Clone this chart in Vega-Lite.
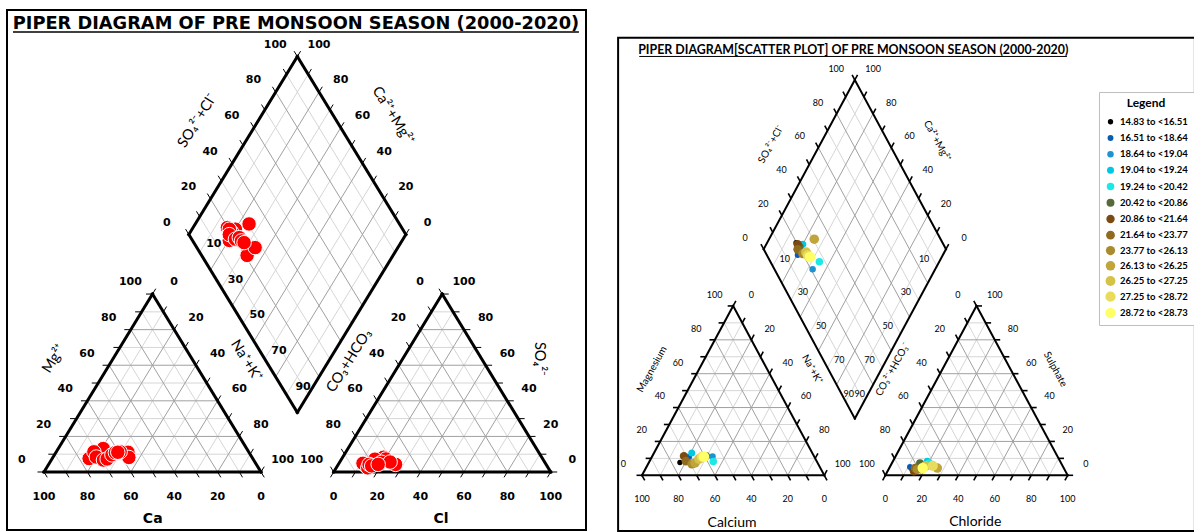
{
  "$schema": "https://vega.github.io/schema/vega-lite/v6.json",
  "background": "white",
  "padding": {"left": 6, "top": 9, "right": 0, "bottom": 2},
  "spacing": 30,
  "resolve": {"scale": {"x": "independent", "y": "independent"}},
  "config": {
    "view": {"stroke": null},
    "legend": {
      "titleFont": "Lato", "titleFontSize": 12, "titleFontWeight": "bold", "titleColor": "#000",
      "titleAnchor": "middle", "titlePadding": 7,
      "labelFont": "Lato", "labelFontSize": 9.5, "labelFontWeight": "bold", "labelColor": "#000", "labelOffset": 4,
      "padding": 6, "strokeColor": "#bfbfbf", "fillColor": "#ffffff", "rowPadding": 5.2,
      "symbolType": "circle", "symbolStrokeWidth": 0
    }
  },
  "datasets": {
    "grid": [
      {"v":10,"x":5,"y":8.2,"x2":95,"y2":8.2},{"v":20,"x":10,"y":16.4,"x2":90,"y2":16.4},{"v":30,"x":15,"y":24.6,"x2":85,"y2":24.6},{"v":40,"x":20,"y":32.8,"x2":80,"y2":32.8},{"v":50,"x":25,"y":41,"x2":75,"y2":41},{"v":60,"x":30,"y":49.2,"x2":70,"y2":49.2},{"v":70,"x":35,"y":57.4,"x2":65,"y2":57.4},{"v":80,"x":40,"y":65.6,"x2":60,"y2":65.6},{"v":90,"x":45,"y":73.8,"x2":55,"y2":73.8},
      {"v":10,"x":10,"y":0,"x2":55,"y2":73.8},{"v":20,"x":20,"y":0,"x2":60,"y2":65.6},{"v":30,"x":30,"y":0,"x2":65,"y2":57.4},{"v":40,"x":40,"y":0,"x2":70,"y2":49.2},{"v":50,"x":50,"y":0,"x2":75,"y2":41},{"v":60,"x":60,"y":0,"x2":80,"y2":32.8},{"v":70,"x":70,"y":0,"x2":85,"y2":24.6},{"v":80,"x":80,"y":0,"x2":90,"y2":16.4},{"v":90,"x":90,"y":0,"x2":95,"y2":8.2},
      {"v":10,"x":10,"y":0,"x2":5,"y2":8.2},{"v":20,"x":20,"y":0,"x2":10,"y2":16.4},{"v":30,"x":30,"y":0,"x2":15,"y2":24.6},{"v":40,"x":40,"y":0,"x2":20,"y2":32.8},{"v":50,"x":50,"y":0,"x2":25,"y2":41},{"v":60,"x":60,"y":0,"x2":30,"y2":49.2},{"v":70,"x":70,"y":0,"x2":35,"y2":57.4},{"v":80,"x":80,"y":0,"x2":40,"y2":65.6},{"v":90,"x":90,"y":0,"x2":45,"y2":73.8},
      {"v":10,"x":138.5,"y":8.2,"x2":228.5,"y2":8.2},{"v":20,"x":143.5,"y":16.4,"x2":223.5,"y2":16.4},{"v":30,"x":148.5,"y":24.6,"x2":218.5,"y2":24.6},{"v":40,"x":153.5,"y":32.8,"x2":213.5,"y2":32.8},{"v":50,"x":158.5,"y":41,"x2":208.5,"y2":41},{"v":60,"x":163.5,"y":49.2,"x2":203.5,"y2":49.2},{"v":70,"x":168.5,"y":57.4,"x2":198.5,"y2":57.4},{"v":80,"x":173.5,"y":65.6,"x2":193.5,"y2":65.6},{"v":90,"x":178.5,"y":73.8,"x2":188.5,"y2":73.8},
      {"v":10,"x":143.5,"y":0,"x2":188.5,"y2":73.8},{"v":20,"x":153.5,"y":0,"x2":193.5,"y2":65.6},{"v":30,"x":163.5,"y":0,"x2":198.5,"y2":57.4},{"v":40,"x":173.5,"y":0,"x2":203.5,"y2":49.2},{"v":50,"x":183.5,"y":0,"x2":208.5,"y2":41},{"v":60,"x":193.5,"y":0,"x2":213.5,"y2":32.8},{"v":70,"x":203.5,"y":0,"x2":218.5,"y2":24.6},{"v":80,"x":213.5,"y":0,"x2":223.5,"y2":16.4},{"v":90,"x":223.5,"y":0,"x2":228.5,"y2":8.2},
      {"v":10,"x":143.5,"y":0,"x2":138.5,"y2":8.2},{"v":20,"x":153.5,"y":0,"x2":143.5,"y2":16.4},{"v":30,"x":163.5,"y":0,"x2":148.5,"y2":24.6},{"v":40,"x":173.5,"y":0,"x2":153.5,"y2":32.8},{"v":50,"x":183.5,"y":0,"x2":158.5,"y2":41},{"v":60,"x":193.5,"y":0,"x2":163.5,"y2":49.2},{"v":70,"x":203.5,"y":0,"x2":168.5,"y2":57.4},{"v":80,"x":213.5,"y":0,"x2":173.5,"y2":65.6},{"v":90,"x":223.5,"y":0,"x2":178.5,"y2":73.8},
      {"v":10,"x":121.75,"y":35.67,"x2":71.75,"y2":117.67},{"v":20,"x":126.75,"y":43.87,"x2":76.75,"y2":125.87},{"v":30,"x":131.75,"y":52.07,"x2":81.75,"y2":134.07},{"v":40,"x":136.75,"y":60.27,"x2":86.75,"y2":142.27},{"v":50,"x":141.75,"y":68.47,"x2":91.75,"y2":150.47},{"v":60,"x":146.75,"y":76.67,"x2":96.75,"y2":158.67},{"v":70,"x":151.75,"y":84.87,"x2":101.75,"y2":166.87},{"v":80,"x":156.75,"y":93.07,"x2":106.75,"y2":175.07},{"v":90,"x":161.75,"y":101.27,"x2":111.75,"y2":183.27},
      {"v":10,"x":111.75,"y":35.67,"x2":161.75,"y2":117.67},{"v":20,"x":106.75,"y":43.87,"x2":156.75,"y2":125.87},{"v":30,"x":101.75,"y":52.07,"x2":151.75,"y2":134.07},{"v":40,"x":96.75,"y":60.27,"x2":146.75,"y2":142.27},{"v":50,"x":91.75,"y":68.47,"x2":141.75,"y2":150.47},{"v":60,"x":86.75,"y":76.67,"x2":136.75,"y2":158.67},{"v":70,"x":81.75,"y":84.87,"x2":131.75,"y2":166.87},{"v":80,"x":76.75,"y":93.07,"x2":126.75,"y2":175.07},{"v":90,"x":71.75,"y":101.27,"x2":121.75,"y2":183.27}
    ],
    "out": [
      {"x":0,"y":0,"x2":100,"y2":0},{"x":0,"y":0,"x2":50,"y2":82},{"x":100,"y":0,"x2":50,"y2":82},
      {"x":133.5,"y":0,"x2":233.5,"y2":0},{"x":133.5,"y":0,"x2":183.5,"y2":82},{"x":233.5,"y":0,"x2":183.5,"y2":82},
      {"x":116.75,"y":27.47,"x2":66.75,"y2":109.47},{"x":66.75,"y":109.47,"x2":116.75,"y2":191.47},{"x":116.75,"y":191.47,"x2":166.75,"y2":109.47},{"x":166.75,"y":109.47,"x2":116.75,"y2":27.47}
    ],
    "tk": [
      {"x":0,"y":0,"x2":1.5,"y2":-2.46},{"x":10,"y":0,"x2":11.5,"y2":-2.46},{"x":20,"y":0,"x2":21.5,"y2":-2.46},{"x":30,"y":0,"x2":31.5,"y2":-2.46},{"x":40,"y":0,"x2":41.5,"y2":-2.46},{"x":50,"y":0,"x2":51.5,"y2":-2.46},{"x":60,"y":0,"x2":61.5,"y2":-2.46},{"x":70,"y":0,"x2":71.5,"y2":-2.46},{"x":80,"y":0,"x2":81.5,"y2":-2.46},{"x":90,"y":0,"x2":91.5,"y2":-2.46},{"x":100,"y":0,"x2":101.5,"y2":-2.46},
      {"x":0,"y":0,"x2":-3,"y2":0},{"x":5,"y":8.2,"x2":2,"y2":8.2},{"x":10,"y":16.4,"x2":7,"y2":16.4},{"x":15,"y":24.6,"x2":12,"y2":24.6},{"x":20,"y":32.8,"x2":17,"y2":32.8},{"x":25,"y":41,"x2":22,"y2":41},{"x":30,"y":49.2,"x2":27,"y2":49.2},{"x":35,"y":57.4,"x2":32,"y2":57.4},{"x":40,"y":65.6,"x2":37,"y2":65.6},{"x":45,"y":73.8,"x2":42,"y2":73.8},{"x":50,"y":82,"x2":47,"y2":82},
      {"x":50,"y":82,"x2":51.5,"y2":84.46},{"x":55,"y":73.8,"x2":56.5,"y2":76.26},{"x":60,"y":65.6,"x2":61.5,"y2":68.06},{"x":65,"y":57.4,"x2":66.5,"y2":59.86},{"x":70,"y":49.2,"x2":71.5,"y2":51.66},{"x":75,"y":41,"x2":76.5,"y2":43.46},{"x":80,"y":32.8,"x2":81.5,"y2":35.26},{"x":85,"y":24.6,"x2":86.5,"y2":27.06},{"x":90,"y":16.4,"x2":91.5,"y2":18.86},{"x":95,"y":8.2,"x2":96.5,"y2":10.66},{"x":100,"y":0,"x2":101.5,"y2":2.46},
      {"x":133.5,"y":0,"x2":132,"y2":-2.46},{"x":143.5,"y":0,"x2":142,"y2":-2.46},{"x":153.5,"y":0,"x2":152,"y2":-2.46},{"x":163.5,"y":0,"x2":162,"y2":-2.46},{"x":173.5,"y":0,"x2":172,"y2":-2.46},{"x":183.5,"y":0,"x2":182,"y2":-2.46},{"x":193.5,"y":0,"x2":192,"y2":-2.46},{"x":203.5,"y":0,"x2":202,"y2":-2.46},{"x":213.5,"y":0,"x2":212,"y2":-2.46},{"x":223.5,"y":0,"x2":222,"y2":-2.46},{"x":233.5,"y":0,"x2":232,"y2":-2.46},
      {"x":233.5,"y":0,"x2":236.5,"y2":0},{"x":228.5,"y":8.2,"x2":231.5,"y2":8.2},{"x":223.5,"y":16.4,"x2":226.5,"y2":16.4},{"x":218.5,"y":24.6,"x2":221.5,"y2":24.6},{"x":213.5,"y":32.8,"x2":216.5,"y2":32.8},{"x":208.5,"y":41,"x2":211.5,"y2":41},{"x":203.5,"y":49.2,"x2":206.5,"y2":49.2},{"x":198.5,"y":57.4,"x2":201.5,"y2":57.4},{"x":193.5,"y":65.6,"x2":196.5,"y2":65.6},{"x":188.5,"y":73.8,"x2":191.5,"y2":73.8},{"x":183.5,"y":82,"x2":186.5,"y2":82},
      {"x":133.5,"y":0,"x2":132,"y2":2.46},{"x":138.5,"y":8.2,"x2":137,"y2":10.66},{"x":143.5,"y":16.4,"x2":142,"y2":18.86},{"x":148.5,"y":24.6,"x2":147,"y2":27.06},{"x":153.5,"y":32.8,"x2":152,"y2":35.26},{"x":158.5,"y":41,"x2":157,"y2":43.46},{"x":163.5,"y":49.2,"x2":162,"y2":51.66},{"x":168.5,"y":57.4,"x2":167,"y2":59.86},{"x":173.5,"y":65.6,"x2":172,"y2":68.06},{"x":178.5,"y":73.8,"x2":177,"y2":76.26},{"x":183.5,"y":82,"x2":182,"y2":84.46},
      {"x":66.75,"y":109.47,"x2":65.25,"y2":111.93},{"x":71.75,"y":117.67,"x2":70.25,"y2":120.13},{"x":76.75,"y":125.87,"x2":75.25,"y2":128.33},{"x":81.75,"y":134.07,"x2":80.25,"y2":136.53},{"x":86.75,"y":142.27,"x2":85.25,"y2":144.73},{"x":91.75,"y":150.47,"x2":90.25,"y2":152.93},{"x":96.75,"y":158.67,"x2":95.25,"y2":161.13},{"x":101.75,"y":166.87,"x2":100.25,"y2":169.33},{"x":106.75,"y":175.07,"x2":105.25,"y2":177.53},{"x":111.75,"y":183.27,"x2":110.25,"y2":185.73},{"x":116.75,"y":191.47,"x2":115.25,"y2":193.93},
      {"x":166.75,"y":109.47,"x2":168.25,"y2":111.93},{"x":161.75,"y":117.67,"x2":163.25,"y2":120.13},{"x":156.75,"y":125.87,"x2":158.25,"y2":128.33},{"x":151.75,"y":134.07,"x2":153.25,"y2":136.53},{"x":146.75,"y":142.27,"x2":148.25,"y2":144.73},{"x":141.75,"y":150.47,"x2":143.25,"y2":152.93},{"x":136.75,"y":158.67,"x2":138.25,"y2":161.13},{"x":131.75,"y":166.87,"x2":133.25,"y2":169.33},{"x":126.75,"y":175.07,"x2":128.25,"y2":177.53},{"x":121.75,"y":183.27,"x2":123.25,"y2":185.73},{"x":116.75,"y":191.47,"x2":118.25,"y2":193.93}
    ],
    "lab": [
      {"g":"a","t":"0","x":-10.2,"y":5.4},{"g":"a","t":"20","x":-0.2,"y":21.8},{"g":"a","t":"40","x":9.8,"y":38.2},{"g":"a","t":"60","x":19.8,"y":54.6},{"g":"a","t":"80","x":29.8,"y":71},{"g":"a","t":"100","x":39.8,"y":87.4},
      {"g":"a","t":"0","x":60,"y":87.4},{"g":"a","t":"20","x":70,"y":71},{"g":"a","t":"40","x":80,"y":54.6},{"g":"a","t":"60","x":90,"y":38.2},{"g":"a","t":"80","x":100,"y":21.8},{"g":"a","t":"100","x":110,"y":5.4},
      {"g":"a","t":"100","x":0,"y":-11.5},{"g":"a","t":"80","x":20,"y":-11.5},{"g":"a","t":"60","x":40,"y":-11.5},{"g":"a","t":"40","x":60,"y":-11.5},{"g":"a","t":"20","x":80,"y":-11.5},{"g":"a","t":"0","x":100,"y":-11.5},
      {"g":"a","t":"0","x":173.3,"y":87.4},{"g":"a","t":"20","x":163.3,"y":71},{"g":"a","t":"40","x":153.3,"y":54.6},{"g":"a","t":"60","x":143.3,"y":38.2},{"g":"a","t":"80","x":133.3,"y":21.8},{"g":"a","t":"100","x":123.3,"y":5.4},
      {"g":"a","t":"0","x":243.5,"y":5.4},{"g":"a","t":"20","x":233.5,"y":21.8},{"g":"a","t":"40","x":223.5,"y":38.2},{"g":"a","t":"60","x":213.5,"y":54.6},{"g":"a","t":"80","x":203.5,"y":71},{"g":"a","t":"100","x":193.5,"y":87.4},
      {"g":"a","t":"0","x":133.5,"y":-11.5},{"g":"a","t":"20","x":153.5,"y":-11.5},{"g":"a","t":"40","x":173.5,"y":-11.5},{"g":"a","t":"60","x":193.5,"y":-11.5},{"g":"a","t":"80","x":213.5,"y":-11.5},{"g":"a","t":"100","x":233.5,"y":-11.5},
      {"g":"a","t":"0","x":56.55,"y":114.87},{"g":"a","t":"20","x":66.55,"y":131.27},{"g":"a","t":"40","x":76.55,"y":147.67},{"g":"a","t":"60","x":86.55,"y":164.07},{"g":"a","t":"80","x":96.55,"y":180.47},{"g":"a","t":"100","x":106.55,"y":196.87},
      {"g":"a","t":"0","x":176.75,"y":114.87},{"g":"a","t":"20","x":166.75,"y":131.27},{"g":"a","t":"40","x":156.75,"y":147.67},{"g":"a","t":"60","x":146.75,"y":164.07},{"g":"a","t":"80","x":136.75,"y":180.47},{"g":"a","t":"100","x":126.75,"y":196.87},
      {"g":"a","t":"10","x":78.25,"y":104.97},{"g":"a","t":"30","x":88.25,"y":88.57},{"g":"a","t":"50","x":98.25,"y":72.17},{"g":"a","t":"70","x":108.25,"y":55.77},{"g":"a","t":"90","x":119.4,"y":39.37},
      {"g":"dlr","t":"10","x":154.75,"y":104.97},{"g":"dlr","t":"30","x":144.75,"y":88.57},{"g":"dlr","t":"50","x":134.75,"y":72.17},{"g":"dlr","t":"70","x":124.75,"y":55.77},{"g":"dlr","t":"90","x":113.4,"y":39.37}
    ],
    "at": [
      {"pn":"L","side":"n","t":"SO₄²⁻+Cl⁻","x":70.8,"y":161.8},
      {"pn":"L","side":"p","t":"Ca²⁺+Mg²⁺","x":160.7,"y":164.1},
      {"pn":"L","side":"n","t":"Mg²⁺","x":4.7,"y":52.1},
      {"pn":"L","side":"p","t":"Na⁺+K⁺","x":93.1,"y":51.2},
      {"pn":"L","side":"n","t":"CO₃+HCO₃","x":140.7,"y":51.2},
      {"pn":"L","side":"v","t":"SO₄²⁻","x":228.2,"y":52.1},
      {"pn":"L","side":"h","t":"Ca","x":50.1,"y":-21.7},
      {"pn":"L","side":"h","t":"Cl","x":183,"y":-21.7},
      {"pn":"R","side":"n","t":"SO₄²⁻+Cl⁻","x":70.8,"y":160.3},
      {"pn":"R","side":"p","t":"Ca²⁺+Mg²⁺","x":161.8,"y":161.9},
      {"pn":"R","side":"n","t":"Magnesium","x":5.5,"y":51.3},
      {"pn":"R","side":"p","t":"Na⁺+K⁺","x":93.3,"y":51.3},
      {"pn":"R","side":"n","t":"CO₃²⁻+HCO₃⁻","x":137.5,"y":51.3},
      {"pn":"R","side":"p","t":"Sulphate","x":226.7,"y":51.3},
      {"pn":"R","side":"h","t":"Calcium","x":49.4,"y":-23},
      {"pn":"R","side":"h","t":"Chloride","x":182.8,"y":-22.5}
    ],
    "ttl": [
      {"pn":"L","t":"PIPER DIAGRAM OF PRE MONSOON SEASON (2000-2020)","x":116.1,"y":204.1},
      {"pn":"R","t":"PIPER DIAGRAM[SCATTER PLOT] OF PRE MONSOON SEASON (2000-2020)","x":115.9,"y":203.9}
    ],
    "deco": [
      {"pn":"L","x":-14.3,"y":202.8,"x2":246.5,"y2":202.8},
      {"pn":"R","x":-1.5,"y":202.8,"x2":233.1,"y2":202.8}
    ],
    "frame": [
      {"x":-13.1,"y":211.9,"x2":303.3,"y2":-27.0}
    ],
    "pts": [
      {"cls":"14.83 to <16.51","x":20.8,"y":6.2},{"cls":"16.51 to <18.64","x":25.8,"y":8.9},{"cls":"18.64 to <19.04","x":38.7,"y":9.1},{"cls":"19.04 to <19.24","x":27.3,"y":10.8},{"cls":"19.24 to <20.42","x":39.1,"y":6.7},{"cls":"20.42 to <20.86","x":35.1,"y":9.3},{"cls":"20.86 to <21.64","x":23.0,"y":9.3},{"cls":"21.64 to <23.77","x":24.1,"y":6.9},{"cls":"23.77 to <26.13","x":27.4,"y":5.5},{"cls":"26.13 to <26.25","x":29.1,"y":6.0},{"cls":"26.25 to <27.25","x":31.3,"y":7.9},{"cls":"27.25 to <28.72","x":32.9,"y":8.9},{"cls":"28.72 to <28.73","x":34.0,"y":9.1},
      {"cls":"14.83 to <16.51","x":148.0,"y":3.0},{"cls":"16.51 to <18.64","x":147.0,"y":4.0},{"cls":"18.64 to <19.04","x":155.0,"y":5.5},{"cls":"19.04 to <19.24","x":156.5,"y":6.8},{"cls":"19.24 to <20.42","x":157.5,"y":6.0},{"cls":"20.42 to <20.86","x":152.5,"y":5.9},{"cls":"20.86 to <21.64","x":149.2,"y":1.9},{"cls":"21.64 to <23.77","x":149.8,"y":3.5},{"cls":"23.77 to <26.13","x":151.0,"y":2.8},{"cls":"26.13 to <26.25","x":162.0,"y":3.5},{"cls":"26.25 to <27.25","x":155.5,"y":4.5},{"cls":"27.25 to <28.72","x":159.5,"y":4.6},{"cls":"28.72 to <28.73","x":154.0,"y":3.5},
      {"cls":"14.83 to <16.51","x":84.5,"y":112.6},{"cls":"16.51 to <18.64","x":85.4,"y":106.7},{"cls":"18.64 to <19.04","x":93.6,"y":99.8},{"cls":"19.04 to <19.24","x":88.2,"y":111.9},{"cls":"19.24 to <20.42","x":97.3,"y":103.4},{"cls":"20.42 to <20.86","x":86.5,"y":110.5},{"cls":"20.86 to <21.64","x":85.4,"y":111.9},{"cls":"21.64 to <23.77","x":85.4,"y":109.4},{"cls":"23.77 to <26.13","x":88.2,"y":107.3},{"cls":"26.13 to <26.25","x":94.5,"y":114.3},{"cls":"26.25 to <27.25","x":90.0,"y":108.0},{"cls":"27.25 to <28.72","x":91.0,"y":106.5},{"cls":"28.72 to <28.73","x":92.2,"y":105.7}
    ]
  },
  "hconcat": [
    {
      "width": 579,
      "height": 520,
      "view": {"stroke": "#000000", "strokeWidth": 2},
      "encoding": {
        "x": {"field": "x", "type": "quantitative", "scale": {"domain": [-17.05, 249.77], "nice": false, "zero": false}, "axis": null},
        "y": {"field": "y", "type": "quantitative", "scale": {"domain": [-26.73, 212.9], "nice": false, "zero": false}, "axis": null}
      },
      "layer": [
        {"data": {"name": "grid"}, "transform": [{"filter": "datum.v % 20 != 0"}], "mark": {"type": "rule", "color": "#d6d6d6", "strokeWidth": 1}, "encoding": {"x2": {"field": "x2"}, "y2": {"field": "y2"}}},
        {"data": {"name": "grid"}, "transform": [{"filter": "datum.v % 20 == 0"}], "mark": {"type": "rule", "color": "#a0a0a0", "strokeWidth": 1}, "encoding": {"x2": {"field": "x2"}, "y2": {"field": "y2"}}},
        {"data": {"name": "tk"}, "mark": {"type": "rule", "color": "#000000", "strokeWidth": 1}, "encoding": {"x2": {"field": "x2"}, "y2": {"field": "y2"}}},
        {"data": {"name": "out"}, "mark": {"type": "rule", "color": "#000000", "strokeWidth": 3, "strokeCap": "square"}, "encoding": {"x2": {"field": "x2"}, "y2": {"field": "y2"}}},
        {"data": {"name": "lab"}, "transform": [{"filter": "datum.g != 'dlr'"}], "mark": {"type": "text", "font": "DejaVu Sans", "fontWeight": "bold", "fontSize": 11, "align": "center", "baseline": "middle", "color": "#000000"}, "encoding": {"text": {"field": "t"}}},
        {"data": {"name": "at"}, "transform": [{"filter": "datum.pn == 'L' && datum.side == 'n'"}], "mark": {"type": "text", "font": "Lato", "fontSize": 14.5, "angle": 302, "align": "center", "baseline": "middle", "color": "#000000"}, "encoding": {"text": {"field": "t"}}},
        {"data": {"name": "at"}, "transform": [{"filter": "datum.pn == 'L' && datum.side == 'p'"}], "mark": {"type": "text", "font": "Lato", "fontSize": 14.5, "angle": 58, "align": "center", "baseline": "middle", "color": "#000000"}, "encoding": {"text": {"field": "t"}}},
        {"data": {"name": "at"}, "transform": [{"filter": "datum.pn == 'L' && datum.side == 'v'"}], "mark": {"type": "text", "font": "Lato", "fontSize": 14.5, "angle": 90, "align": "center", "baseline": "middle", "color": "#000000"}, "encoding": {"text": {"field": "t"}}},
        {"data": {"name": "at"}, "transform": [{"filter": "datum.pn == 'L' && datum.side == 'h'"}], "mark": {"type": "text", "font": "DejaVu Sans", "fontWeight": "bold", "fontSize": 14, "align": "center", "baseline": "middle", "color": "#000000"}, "encoding": {"text": {"field": "t"}}},
        {"data": {"name": "ttl"}, "transform": [{"filter": "datum.pn == 'L'"}], "mark": {"type": "text", "font": "DejaVu Sans", "fontWeight": "bold", "fontSize": 17.8, "align": "center", "baseline": "alphabetic", "color": "#000000"}, "encoding": {"text": {"field": "t"}}},
        {"data": {"name": "deco"}, "transform": [{"filter": "datum.pn == 'L'"}], "mark": {"type": "rule", "color": "#000000", "strokeWidth": 1.5}, "encoding": {"x2": {"field": "x2"}, "y2": {"field": "y2"}}},
        {"data": {"name": "pts"}, "mark": {"type": "circle", "size": 210, "color": "#ff0000", "opacity": 1, "stroke": "#ffffff", "strokeWidth": 1}}
      ]
    },
    {
      "width": 579,
      "height": 521,
      "encoding": {
        "x": {"field": "x", "type": "quantitative", "scale": {"domain": [-13.71, 303.9], "nice": false, "zero": false}, "axis": null},
        "y": {"field": "y", "type": "quantitative", "scale": {"domain": [-26.97, 225.3], "nice": false, "zero": false}, "axis": null}
      },
      "layer": [
        {"data": {"name": "frame"}, "mark": {"type": "rect", "fill": null, "stroke": "#000000", "strokeWidth": 2}, "encoding": {"x2": {"field": "x2"}, "y2": {"field": "y2"}}},
        {"data": {"name": "grid"}, "transform": [{"filter": "datum.v % 20 != 0"}], "mark": {"type": "rule", "color": "#d6d6d6", "strokeWidth": 1}, "encoding": {"x2": {"field": "x2"}, "y2": {"field": "y2"}}},
        {"data": {"name": "grid"}, "transform": [{"filter": "datum.v % 20 == 0"}], "mark": {"type": "rule", "color": "#a0a0a0", "strokeWidth": 1}, "encoding": {"x2": {"field": "x2"}, "y2": {"field": "y2"}}},
        {"data": {"name": "tk"}, "mark": {"type": "rule", "color": "#000000", "strokeWidth": 1.6}, "encoding": {"x2": {"field": "x2"}, "y2": {"field": "y2"}}},
        {"data": {"name": "out"}, "mark": {"type": "rule", "color": "#000000", "strokeWidth": 2, "strokeCap": "square"}, "encoding": {"x2": {"field": "x2"}, "y2": {"field": "y2"}}},
        {"data": {"name": "lab"}, "mark": {"type": "text", "font": "Lato", "fontSize": 9, "align": "center", "baseline": "middle", "color": "#000000"}, "encoding": {"text": {"field": "t"}}},
        {"data": {"name": "at"}, "transform": [{"filter": "datum.pn == 'R' && datum.side == 'n'"}], "mark": {"type": "text", "font": "Lato", "fontSize": 10, "angle": 299, "align": "center", "baseline": "middle", "color": "#000000"}, "encoding": {"text": {"field": "t"}}},
        {"data": {"name": "at"}, "transform": [{"filter": "datum.pn == 'R' && datum.side == 'p'"}], "mark": {"type": "text", "font": "Lato", "fontSize": 10, "angle": 61, "align": "center", "baseline": "middle", "color": "#000000"}, "encoding": {"text": {"field": "t"}}},
        {"data": {"name": "at"}, "transform": [{"filter": "datum.pn == 'R' && datum.side == 'h'"}], "mark": {"type": "text", "font": "Lato", "fontSize": 14, "align": "center", "baseline": "middle", "color": "#000000"}, "encoding": {"text": {"field": "t"}}},
        {"data": {"name": "ttl"}, "transform": [{"filter": "datum.pn == 'R'"}], "mark": {"type": "text", "font": "Lato", "fontWeight": "bold", "fontSize": 12.4, "align": "center", "baseline": "alphabetic", "color": "#000000"}, "encoding": {"text": {"field": "t"}}},
        {"data": {"name": "deco"}, "transform": [{"filter": "datum.pn == 'R'"}], "mark": {"type": "rule", "color": "#000000", "strokeWidth": 1}, "encoding": {"x2": {"field": "x2"}, "y2": {"field": "y2"}}},
        {
          "data": {"name": "pts"},
          "mark": {"type": "circle", "opacity": 1},
          "encoding": {
            "color": {"field": "cls", "type": "ordinal", "title": "Legend",
              "scale": {"type": "ordinal", "domain": ["14.83 to <16.51","16.51 to <18.64","18.64 to <19.04","19.04 to <19.24","19.24 to <20.42","20.42 to <20.86","20.86 to <21.64","21.64 to <23.77","23.77 to <26.13","26.13 to <26.25","26.25 to <27.25","27.25 to <28.72","28.72 to <28.73"],
                        "range": ["#000000","#0b5cb0","#1f93d1","#00c7e3","#1ce8e6","#566a3a","#7b4a10","#8f6a1f","#a98a2d","#c0a43c","#d5c246","#e9dc5c","#ffff66"]},
              "legend": {"orient": "none", "legendX": 1092, "legendY": 82, "direction": "vertical"}},
            "size": {"field": "cls", "type": "ordinal", "title": "Legend",
              "scale": {"type": "ordinal", "domain": ["14.83 to <16.51","16.51 to <18.64","18.64 to <19.04","19.04 to <19.24","19.24 to <20.42","20.42 to <20.86","20.86 to <21.64","21.64 to <23.77","23.77 to <26.13","26.13 to <26.25","26.25 to <27.25","27.25 to <28.72","28.72 to <28.73"],
                        "range": [28, 35, 42, 49, 56, 63, 70, 77, 84, 91, 98, 104, 110]},
              "legend": {"orient": "none", "legendX": 1092, "legendY": 82, "direction": "vertical"}}
          }
        }
      ]
    }
  ]
}
